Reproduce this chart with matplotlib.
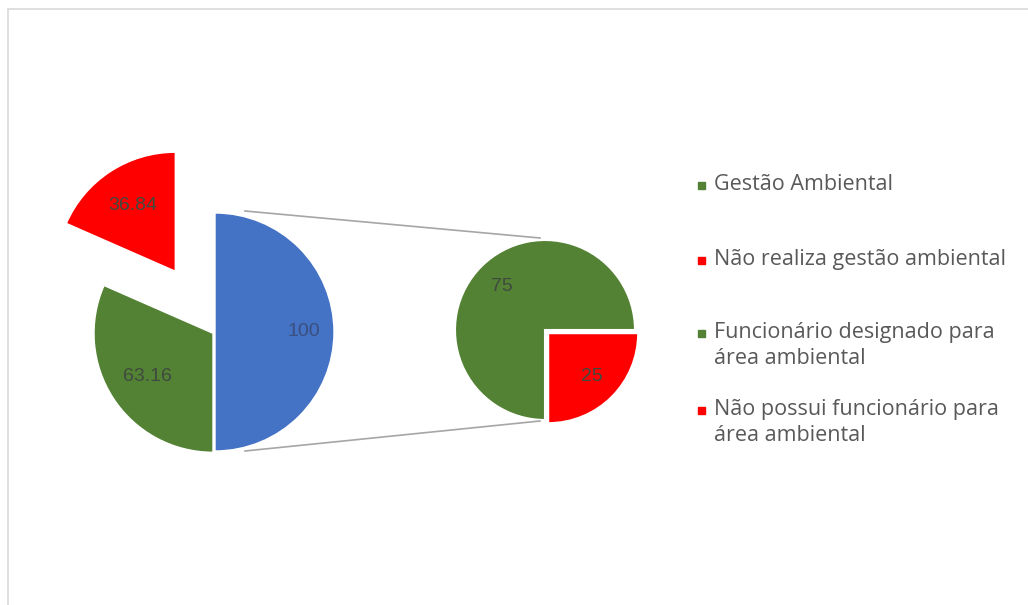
import matplotlib.pyplot as plt
from matplotlib.patches import Rectangle

# primeiro grafico: gestao ambiental (fatia azul = detalhamento)
main_values = [100, 63.16, 36.84]
main_labels = ["100", "63.16", "36.84"]
main_colors = ["#4472C4", "#548235", "#FF0000"]

# segundo grafico: funcionario designado
sub_values = [25, 75]
sub_labels = ["25", "75"]
sub_colors = ["#FF0000", "#548235"]

legend_labels = [
    "Gestão Ambiental",
    "Não realiza gestão ambiental",
    "Funcionário designado para\nárea ambiental",
    "Não possui funcionário para\nárea ambiental",
]
legend_colors = ["#548235", "#FF0000", "#548235", "#FF0000"]

W, H = 1028, 605
fig = plt.figure(figsize=(W / 100, H / 100), dpi=100)
ax = fig.add_axes([0, 0, 1, 1])

# moldura do grafico
ax.add_patch(Rectangle((8, -10), W + 20, H - 9 + 10, fill=False,
                       edgecolor="#d9d9d9", linewidth=1.2))

txt = dict(color="#3f4a3f", fontsize=14, family="Liberation Sans")

main_c = (215, H - 332)
main_r = 119
# explode do matplotlib e em unidades de dados, nao em fracao do raio
main_explode = [0, 0.02 * main_r, 0.61 * main_r]
wedges, _, autotexts = ax.pie(
    main_values, colors=main_colors, startangle=90, counterclock=False,
    center=main_c, radius=main_r, explode=main_explode,
    autopct="%1.0f", pctdistance=0.66, textprops=txt, frame=True,
    wedgeprops=dict(edgecolor="white", linewidth=1))
for t, s in zip(autotexts, main_labels):
    t.set_text(s)
autotexts[0].set_position((main_c[0] + 0.75 * main_r, main_c[1]))
autotexts[0].set_color("#3a4f80")

sub_c = (545, H - 330)
sub_r = 90
wedges2, _, autotexts2 = ax.pie(
    sub_values, colors=sub_colors, startangle=0, counterclock=False,
    center=sub_c, radius=sub_r, explode=[0.05 * sub_r, 0],
    autopct="%1.0f", pctdistance=0.68, textprops=txt, frame=True,
    wedgeprops=dict(edgecolor="white", linewidth=1.5))
for t, s in zip(autotexts2, sub_labels):
    t.set_text(s)

ax.set_xlim(0, W)
ax.set_ylim(0, H)
ax.set_aspect("equal")
ax.axis("off")

# linhas de ligacao entre os graficos
ax.plot([245, 540], [H - 211, H - 238], color="#a6a6a6", lw=1.2)
ax.plot([245, 540], [H - 451, H - 421], color="#a6a6a6", lw=1.2)

# legenda
ly = [185, 260, 333, 410]
for lab, col, y in zip(legend_labels, legend_colors, ly):
    ax.add_patch(Rectangle((698, H - y - 3.5), 7, 7, color=col))
    ax.text(714, H - y + 11, lab, va="top", ha="left", color="#595959",
            fontsize=15.5, family="Open Sans", linespacing=1.3)

fig.savefig("out.png", dpi=100)
